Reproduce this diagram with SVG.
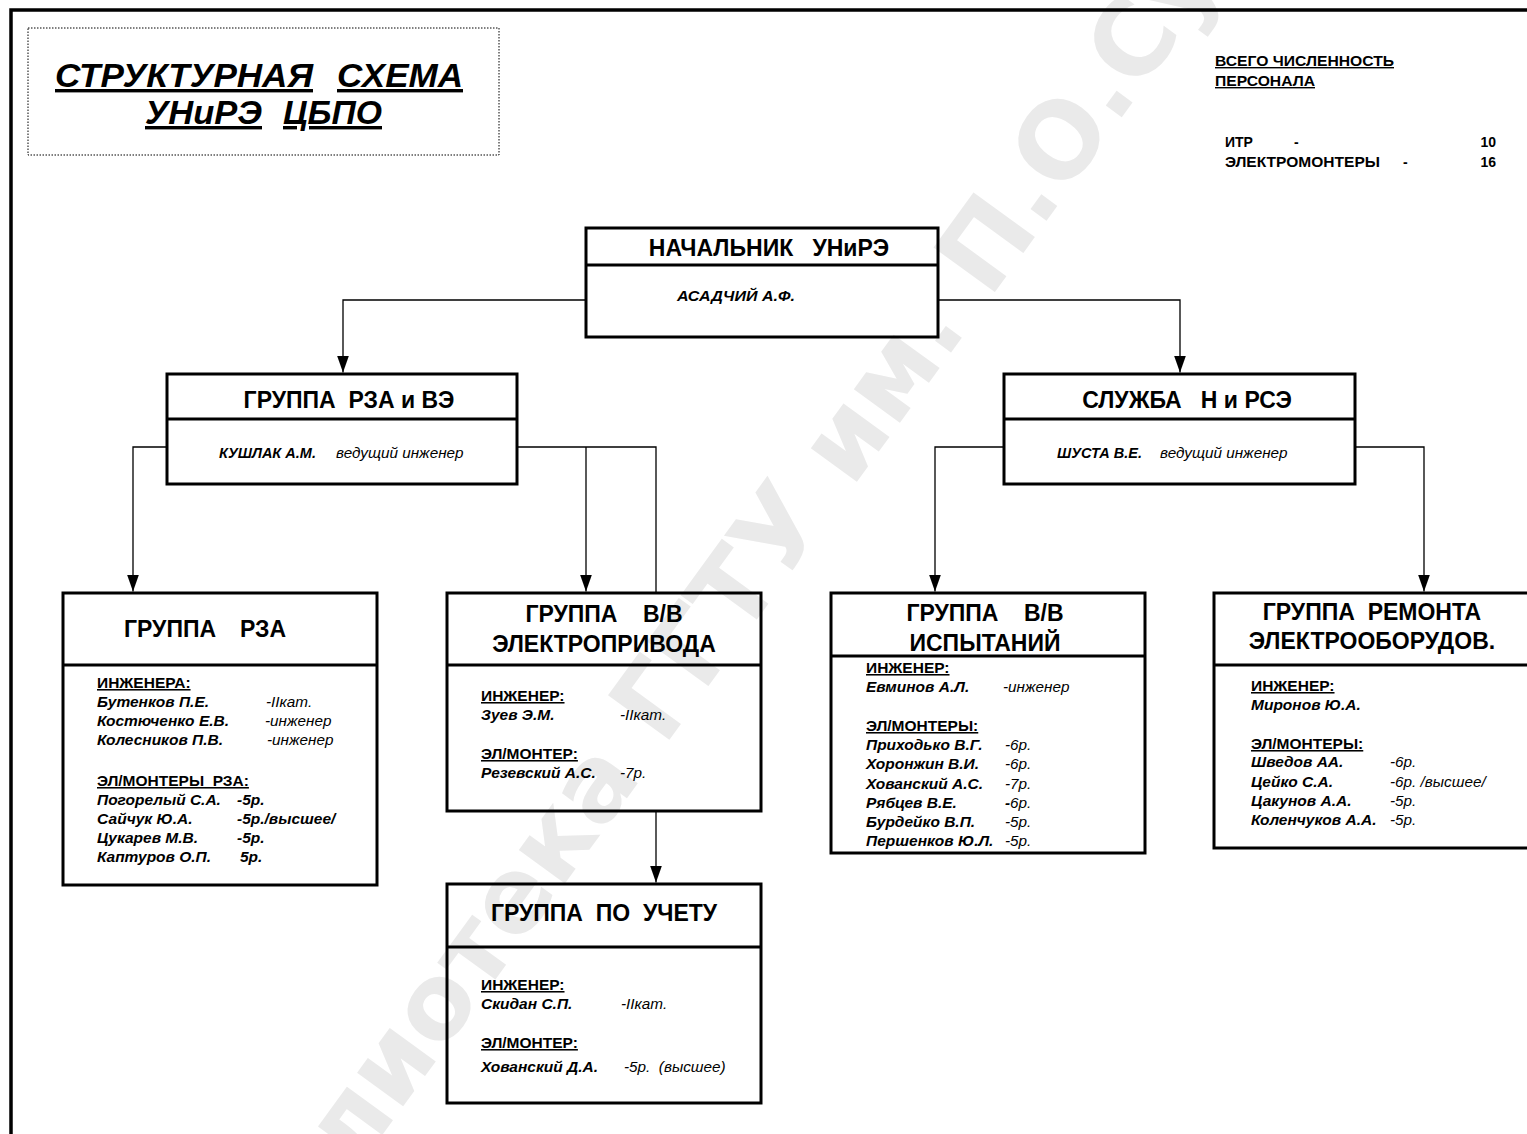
<svg xmlns="http://www.w3.org/2000/svg" width="1527" height="1134" viewBox="0 0 1527 1134">
  <style>
    text { font-family: "Liberation Sans", Arial, sans-serif; fill: #000; }
    .box { fill: none; stroke: #000; stroke-width: 3; }
    .sep { stroke: #000; stroke-width: 3; }
    .conn { fill: none; stroke: #000; stroke-width: 1.3; }
    .ttl { font-size: 23px; font-weight: bold; }
    .big { font-size: 34px; font-weight: bold; font-style: italic; text-decoration: underline; }
    .hd { font-size: 15.5px; font-weight: bold; text-decoration: underline; }
    .nm { font-size: 15.5px; font-weight: bold; font-style: italic; }
    .ds { font-size: 15.3px; font-style: italic; }
    .lead { font-size: 14.5px; font-weight: bold; font-style: italic; }
    .cnt { font-size: 14px; font-weight: bold; }
    .wm { font-family: "DejaVu Sans", sans-serif; font-size: 104px; font-weight: bold; fill: #eaeaea; }
  </style>
  <defs>
    <marker id="ah" viewBox="0 0 17 12" markerWidth="17" markerHeight="12" refX="17" refY="6" orient="auto" markerUnits="userSpaceOnUse">
      <path d="M0,0 L17,6 L0,12 Z" fill="#000"/>
    </marker>
  </defs>

  <rect width="1527" height="1134" fill="#fff"/>

  <!-- library stamp running across the sheet -->
  <g id="watermark">
    <text class="wm" text-anchor="middle" transform="translate(800,560) rotate(-54)">Библиотека ГГТУ им. П.О.Сухого</text>
  </g>

  <!-- sheet frame -->
  <path d="M11,1134 V10 H1527" fill="none" stroke="#000" stroke-width="3.5"/>

  <!-- heading block -->
  <g id="heading">
    <rect x="28" y="28" width="471" height="127" fill="none" stroke="#000" stroke-width="1" stroke-dasharray="1.5,1.5"/>
    <text class="big" x="55" y="87" textLength="258" lengthAdjust="spacingAndGlyphs">СТРУКТУРНАЯ</text>
    <text class="big" x="337" y="87" textLength="126" lengthAdjust="spacingAndGlyphs">СХЕМА</text>
    <text class="big" x="145" y="124" textLength="117" lengthAdjust="spacingAndGlyphs">УНиРЭ</text>
    <text class="big" x="283" y="124" textLength="99" lengthAdjust="spacingAndGlyphs">ЦБПО</text>
  </g>

  <!-- staff totals -->
  <g id="totals">
    <text class="cnt" x="1215" y="66" text-decoration="underline" textLength="179" lengthAdjust="spacingAndGlyphs">ВСЕГО ЧИСЛЕННОСТЬ</text>
    <text class="cnt" x="1215" y="86" text-decoration="underline" textLength="100" lengthAdjust="spacingAndGlyphs">ПЕРСОНАЛА</text>
    <text class="cnt" x="1225" y="147">ИТР</text>
    <text class="cnt" x="1294" y="147">-</text>
    <text class="cnt" x="1496" y="147" text-anchor="end">10</text>
    <text class="cnt" x="1225" y="167" textLength="155" lengthAdjust="spacingAndGlyphs">ЭЛЕКТРОМОНТЕРЫ</text>
    <text class="cnt" x="1403" y="167">-</text>
    <text class="cnt" x="1496" y="167" text-anchor="end">16</text>
  </g>

  <!-- connectors -->
  <g id="connectors">
    <path class="conn" d="M586,300 H343 V372.5" marker-end="url(#ah)"/>
    <path class="conn" d="M938,300 H1180 V372.5" marker-end="url(#ah)"/>
    <path class="conn" d="M167,447 H133 V591.5" marker-end="url(#ah)"/>
    <path class="conn" d="M517,447 H656 V593"/>
    <path class="conn" d="M586,447 V591.5" marker-end="url(#ah)"/>
    <path class="conn" d="M1004,447 H935 V591.5" marker-end="url(#ah)"/>
    <path class="conn" d="M1355,447 H1424 V591.5" marker-end="url(#ah)"/>
    <path class="conn" d="M656,811 V882.5" marker-end="url(#ah)"/>
  </g>

  <!-- head of the unit -->
  <g id="node-head">
    <rect class="box" x="586" y="228" width="352" height="109"/>
    <line class="sep" x1="586" y1="265" x2="938" y2="265"/>
    <text class="ttl" x="769" y="256" text-anchor="middle" xml:space="preserve">НАЧАЛЬНИК   УНиРЭ</text>
    <text class="lead" x="677" y="301" textLength="118" lengthAdjust="spacingAndGlyphs">АСАДЧИЙ А.Ф.</text>
  </g>

  <!-- relay protection and power group -->
  <g id="node-rza-ve">
    <rect class="box" x="167" y="374" width="350" height="110"/>
    <line class="sep" x1="167" y1="419" x2="517" y2="419"/>
    <text class="ttl" x="349" y="408" text-anchor="middle" xml:space="preserve">ГРУППА  РЗА и ВЭ</text>
    <text class="lead" x="219" y="458">КУШЛАК А.М.</text>
    <text class="ds" x="336" y="458">ведущий инженер</text>
  </g>

  <!-- adjustment and testing service -->
  <g id="node-nrse">
    <rect class="box" x="1004" y="374" width="351" height="110"/>
    <line class="sep" x1="1004" y1="419" x2="1355" y2="419"/>
    <text class="ttl" x="1187" y="408" text-anchor="middle" xml:space="preserve">СЛУЖБА   Н и РСЭ</text>
    <text class="lead" x="1057" y="458">ШУСТА В.Е.</text>
    <text class="ds" x="1160" y="458">ведущий инженер</text>
  </g>

  <!-- relay protection group -->
  <g id="node-rza">
    <rect class="box" x="63" y="593" width="314" height="292"/>
    <line class="sep" x1="63" y1="665" x2="377" y2="665"/>
    <text class="ttl" x="124" y="637">ГРУППА</text>
    <text class="ttl" x="240" y="637">РЗА</text>
    <text class="hd" x="97" y="688">ИНЖЕНЕРА:</text>
    <text class="nm" x="97" y="707">Бутенков П.Е.</text>
    <text class="ds" x="266" y="707">-IIкат.</text>
    <text class="nm" x="97" y="726">Костюченко Е.В.</text>
    <text class="ds" x="265" y="726">-инженер</text>
    <text class="nm" x="97" y="745">Колесников П.В.</text>
    <text class="ds" x="267" y="745">-инженер</text>
    <text class="hd" x="97" y="786" xml:space="preserve">ЭЛ/МОНТЕРЫ  РЗА:</text>
    <text class="nm" x="97" y="805">Погорелый С.А.</text>
    <text class="nm" x="237" y="805">-5р.</text>
    <text class="nm" x="97" y="824">Сайчук Ю.А.</text>
    <text class="nm" x="237" y="824">-5р./высшее/</text>
    <text class="nm" x="97" y="843">Цукарев М.В.</text>
    <text class="nm" x="237" y="843">-5р.</text>
    <text class="nm" x="97" y="862">Каптуров О.П.</text>
    <text class="nm" x="240" y="862">5р.</text>
  </g>

  <!-- electric drive group -->
  <g id="node-drive">
    <rect class="box" x="447" y="593" width="314" height="218"/>
    <line class="sep" x1="447" y1="665" x2="761" y2="665"/>
    <text class="ttl" x="604" y="622" text-anchor="middle" xml:space="preserve">ГРУППА    В/В</text>
    <text class="ttl" x="604" y="652" text-anchor="middle">ЭЛЕКТРОПРИВОДА</text>
    <text class="hd" x="481" y="701">ИНЖЕНЕР:</text>
    <text class="nm" x="481" y="720">Зуев Э.М.</text>
    <text class="ds" x="620" y="720">-IIкат.</text>
    <text class="hd" x="481" y="759">ЭЛ/МОНТЕР:</text>
    <text class="nm" x="481" y="778">Резевский А.С.</text>
    <text class="ds" x="620" y="778">-7р.</text>
  </g>

  <!-- testing group -->
  <g id="node-tests">
    <rect class="box" x="831" y="593" width="314" height="260"/>
    <line class="sep" x1="831" y1="656" x2="1145" y2="656"/>
    <text class="ttl" x="985" y="621" text-anchor="middle" xml:space="preserve">ГРУППА    В/В</text>
    <text class="ttl" x="985" y="651" text-anchor="middle">ИСПЫТАНИЙ</text>
    <text class="hd" x="866" y="673">ИНЖЕНЕР:</text>
    <text class="nm" x="866" y="692">Евминов А.Л.</text>
    <text class="ds" x="1003" y="692">-инженер</text>
    <text class="hd" x="866" y="731">ЭЛ/МОНТЕРЫ:</text>
    <text class="nm" x="866" y="750">Приходько В.Г.</text>
    <text class="ds" x="1005" y="750">-6р.</text>
    <text class="nm" x="866" y="769">Хоронжин В.И.</text>
    <text class="ds" x="1005" y="769">-6р.</text>
    <text class="nm" x="866" y="789">Хованский А.С.</text>
    <text class="ds" x="1005" y="789">-7р.</text>
    <text class="nm" x="866" y="808">Рябцев В.Е.</text>
    <text class="ds" x="1005" y="808"><tspan font-weight="bold">-</tspan>6р.</text>
    <text class="nm" x="866" y="827">Бурдейко В.П.</text>
    <text class="ds" x="1005" y="827">-5р.</text>
    <text class="nm" x="866" y="846">Першенков Ю.Л.</text>
    <text class="ds" x="1005" y="846">-5р.</text>
  </g>

  <!-- repair group -->
  <g id="node-repair">
    <rect class="box" x="1214" y="593" width="340" height="255"/>
    <line class="sep" x1="1214" y1="665" x2="1527" y2="665"/>
    <text class="ttl" x="1372" y="620" text-anchor="middle" xml:space="preserve">ГРУППА  РЕМОНТА</text>
    <text class="ttl" x="1372" y="649" text-anchor="middle">ЭЛЕКТРООБОРУДОВ.</text>
    <text class="hd" x="1251" y="691">ИНЖЕНЕР:</text>
    <text class="nm" x="1251" y="710">Миронов Ю.А.</text>
    <text class="hd" x="1251" y="749">ЭЛ/МОНТЕРЫ:</text>
    <text class="nm" x="1251" y="767">Шведов АА.</text>
    <text class="ds" x="1390" y="767">-6р.</text>
    <text class="nm" x="1251" y="787">Цейко С.А.</text>
    <text class="ds" x="1390" y="787">-6р. /высшее/</text>
    <text class="nm" x="1251" y="806">Цакунов А.А.</text>
    <text class="ds" x="1390" y="806">-5р.</text>
    <text class="nm" x="1251" y="825">Коленчуков А.А.</text>
    <text class="ds" x="1390" y="825">-5р.</text>
  </g>

  <!-- accounting group -->
  <g id="node-accounting">
    <rect class="box" x="447" y="884" width="314" height="219"/>
    <line class="sep" x1="447" y1="947" x2="761" y2="947"/>
    <text class="ttl" x="604" y="921" text-anchor="middle" xml:space="preserve">ГРУППА  ПО  УЧЕТУ</text>
    <text class="hd" x="481" y="990">ИНЖЕНЕР:</text>
    <text class="nm" x="481" y="1009">Скидан С.П.</text>
    <text class="ds" x="621" y="1009">-IIкат.</text>
    <text class="hd" x="481" y="1048">ЭЛ/МОНТЕР:</text>
    <text class="nm" x="481" y="1072">Хованский Д.А.</text>
    <text class="ds" x="624" y="1072" xml:space="preserve">-5р.  (высшее)</text>
  </g>
</svg>
